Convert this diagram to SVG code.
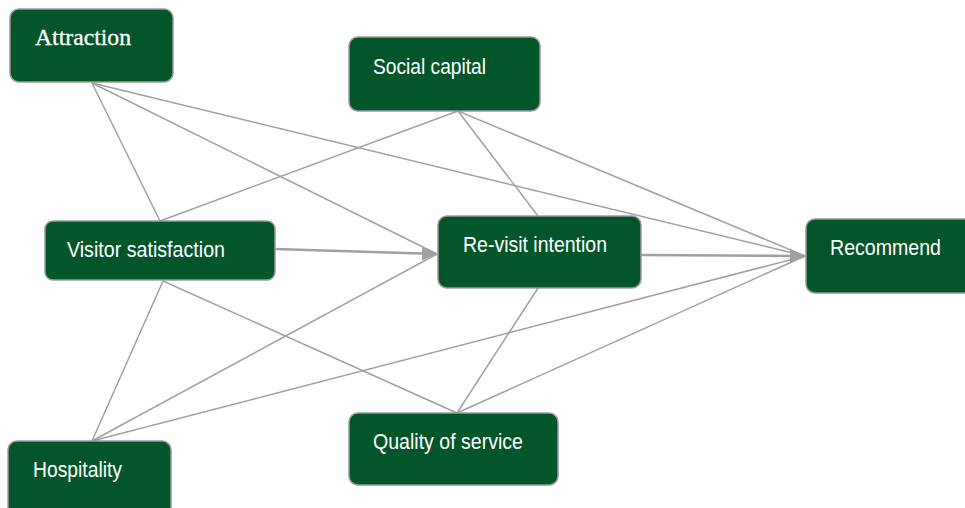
<svg xmlns="http://www.w3.org/2000/svg" width="965" height="508" viewBox="0 0 965 508">
<defs>
<style>
.node rect{fill:#03552A;stroke:#9a9a9a;stroke-width:1.5}
.node text{fill:#ffffff;font-family:"Liberation Sans",Arial,sans-serif;font-size:22.5px}
.node text.serif{font-family:"Liberation Serif","Times New Roman",serif;font-size:23px}
.conn line{stroke:#a0a0a0;stroke-width:1.5;fill:none}
.conn line.main{stroke-width:2.5}
</style>
<marker id="arr" markerUnits="userSpaceOnUse" markerWidth="16" markerHeight="15" refX="15" refY="7" orient="auto">
<path d="M0,0 L15,7 L0,14 z" fill="#a0a0a0"/>
</marker>
</defs>
<rect width="965" height="508" fill="#ffffff"/>
<g id="connectors" class="conn">
<line x1="92" y1="83" x2="160" y2="221"/>
<line x1="92" y1="83" x2="437" y2="254"/>
<line x1="92" y1="83" x2="805" y2="256"/>
<line x1="458" y1="111" x2="160" y2="221"/>
<line x1="458" y1="111" x2="538" y2="216"/>
<line x1="458" y1="111" x2="805" y2="256"/>
<line x1="163" y1="281" x2="92" y2="441"/>
<line x1="163" y1="281" x2="457" y2="413"/>
<line x1="92" y1="441" x2="437" y2="254"/>
<line x1="92" y1="441" x2="805" y2="256"/>
<line x1="457" y1="413" x2="538" y2="288"/>
<line x1="457" y1="413" x2="805" y2="256"/>
<line class="main" x1="275" y1="249" x2="437" y2="254" marker-end="url(#arr)"/>
<line class="main" x1="641" y1="255" x2="805" y2="256" marker-end="url(#arr)"/>
</g>
<g id="attraction" class="node">
<rect x="10" y="9" width="163" height="73" rx="9"/>
<text class="serif" x="35" y="45" textLength="96" lengthAdjust="spacingAndGlyphs" stroke="#ffffff" stroke-width="0.3">Attraction</text>
</g>
<g id="social-capital" class="node">
<rect x="349" y="37" width="191" height="74" rx="9"/>
<text x="373" y="74" textLength="113" lengthAdjust="spacingAndGlyphs">Social capital</text>
</g>
<g id="visitor-satisfaction" class="node">
<rect x="45" y="221" width="230" height="59" rx="8"/>
<text x="67" y="257" textLength="158" lengthAdjust="spacingAndGlyphs">Visitor satisfaction</text>
</g>
<g id="revisit-intention" class="node">
<rect x="438" y="216" width="203" height="72" rx="9"/>
<text x="463" y="252" textLength="144" lengthAdjust="spacingAndGlyphs">Re-visit intention</text>
</g>
<g id="recommend" class="node">
<rect x="806" y="219" width="170" height="74" rx="9"/>
<text x="830" y="255" textLength="111" lengthAdjust="spacingAndGlyphs">Recommend</text>
</g>
<g id="hospitality" class="node">
<rect x="8" y="441" width="163" height="75" rx="9"/>
<text x="33" y="477" textLength="89" lengthAdjust="spacingAndGlyphs">Hospitality</text>
</g>
<g id="quality-of-service" class="node">
<rect x="349" y="413" width="209" height="72" rx="9"/>
<text x="373" y="449" textLength="150" lengthAdjust="spacingAndGlyphs">Quality of service</text>
</g>
</svg>
